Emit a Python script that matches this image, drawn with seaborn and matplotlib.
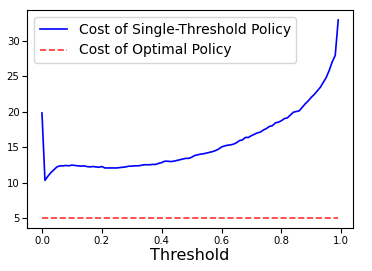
import numpy as np
import pandas as pd
import matplotlib
matplotlib.use("Agg")
import matplotlib.pyplot as plt
import seaborn as sns

# threshold grid 0.00 .. 0.99 and cost values
thresholds = [round(0.01 * i, 2) for i in range(100)]
single_cost = [
    19.8, 10.3, 10.9, 11.4, 11.8, 12.2, 12.35, 12.35, 12.4, 12.35,
    12.45, 12.4, 12.35, 12.3, 12.35, 12.25, 12.2, 12.25, 12.2, 12.15,
    12.25, 12.05, 12.05, 12.05, 12.05, 12.05, 12.1, 12.15, 12.2, 12.3,
    12.3, 12.35, 12.35, 12.4, 12.5, 12.5, 12.5, 12.55, 12.55, 12.7,
    12.8, 13.0, 13.0, 12.95, 13.0, 13.1, 13.2, 13.3, 13.4, 13.4,
    13.55, 13.8, 13.9, 14.0, 14.05, 14.15, 14.25, 14.35, 14.5, 14.7,
    15.0, 15.15, 15.25, 15.3, 15.4, 15.6, 15.9, 16.0, 16.35, 16.35,
    16.6, 16.8, 17.0, 17.1, 17.4, 17.6, 17.9, 18.0, 18.4, 18.5,
    18.7, 19.0, 19.1, 19.5, 19.9, 20.0, 20.1, 20.6, 21.1, 21.5,
    22.0, 22.4, 22.9, 23.4, 24.1, 24.8, 25.8, 27.0, 27.9, 32.9,
]
optimal_cost = [5.0] * len(thresholds)

df = pd.DataFrame({
    "threshold": thresholds,
    "single": single_cost,
    "optimal": optimal_cost,
})

fig, ax = plt.subplots(figsize=(3.72, 2.71), dpi=100)
fig.subplots_adjust(left=0.073, right=0.949, top=0.963, bottom=0.159)

sns.lineplot(data=df, x="threshold", y="single", color="b", lw=1.2,
             label="Cost of Single-Threshold Policy", ax=ax)
sns.lineplot(data=df, x="threshold", y="optimal", color="r", lw=1.2,
             linestyle="--", alpha=0.8, label="Cost of Optimal Policy", ax=ax)

ax.set_xlabel("Threshold", fontsize=11.5, labelpad=2)
ax.set_ylabel("")
ax.set_xticks([0.0, 0.2, 0.4, 0.6, 0.8, 1.0])
ax.set_yticks([5, 10, 15, 20, 25, 30])
ax.tick_params(labelsize=7.3, length=3.5, pad=2)
ax.legend(loc="upper left", fontsize=10, borderaxespad=0.5)

fig.savefig("out.png", dpi=100)
